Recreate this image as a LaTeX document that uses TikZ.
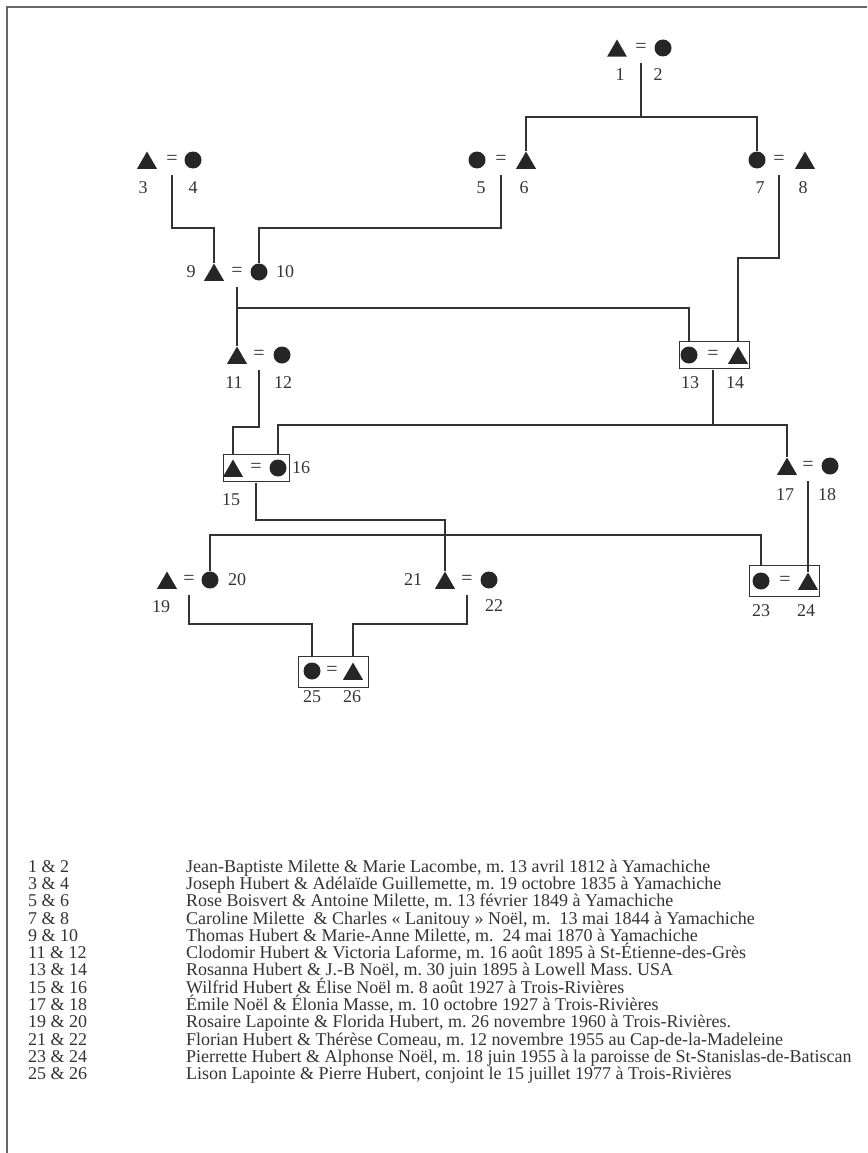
\documentclass[tikz,border=0pt]{standalone}
\usepackage{fontspec}
\setmainfont{Liberation Serif}
\usetikzlibrary{shapes.geometric}
\frenchspacing

\begin{document}
\begin{tikzpicture}[
    x=1pt, y=-1pt,
    male/.style={regular polygon, regular polygon sides=3, fill=black!85, minimum size=23pt, inner sep=0pt, yshift=-3pt},
    female/.style={circle, fill=black!85, minimum size=17pt, inner sep=0pt},
    eq/.style={inner sep=0pt, minimum height=30pt, text=black!80, font=\fontsize{20}{22}\selectfont},
    num/.style={inner sep=0pt, text=black!80, font=\fontsize{18}{20}\selectfont},
    couplebox/.style={draw=black!80, line width=0.9pt, minimum width=70pt, minimum height=27pt, inner sep=0pt},
    link/.style={draw=black!80, line width=1.1pt},
    legtext/.style={anchor=base west, inner sep=0pt, text=black!80, font=\fontsize{18}{20}\selectfont},
    frame/.style={draw=black!60, line width=2.5pt}
  ]
  \useasboundingbox (0,0) rectangle (867,1153);
  \draw[frame] (7,1153) -- (7,7) -- (867,7);

  % Couple 1 = 2
  \node[male] (m1) at (617,48) {};
  \node[eq] (e12) at (641,48) {=};
  \node[female] (f2) at (663,48) {};
  \node[num] (n1) at (620,75) {1};
  \node[num] (n2) at (658,75) {2};

  % Couples 3 = 4, 5 = 6, 7 = 8
  \node[male] (m3) at (147,160) {};
  \node[eq] (e34) at (172,160) {=};
  \node[female] (f4) at (193,160) {};
  \node[num] (n3) at (143,188) {3};
  \node[num] (n4) at (193,188) {4};
  \node[female] (f5) at (477,160) {};
  \node[eq] (e56) at (501,160) {=};
  \node[male] (m6) at (526,160) {};
  \node[num] (n5) at (481,188) {5};
  \node[num] (n6) at (524,188) {6};
  \node[female] (f7) at (757,160) {};
  \node[eq] (e78) at (779,160) {=};
  \node[male] (m8) at (805,160) {};
  \node[num] (n7) at (760,188) {7};
  \node[num] (n8) at (803,188) {8};

  % Couple 9 = 10
  \node[num] (n9) at (191,272) {9};
  \node[male] (m9) at (214,272) {};
  \node[eq] (e910) at (237,272) {=};
  \node[female] (f10) at (259,272) {};
  \node[num] (n10) at (285,272) {10};

  % Couples 11 = 12, 13 = 14
  \node[male] (m11) at (237,355) {};
  \node[eq] (e1112) at (259,355) {=};
  \node[female] (f12) at (282,355) {};
  \node[num] (n11) at (234,383) {11};
  \node[num] (n12) at (283,383) {12};
  \node[couplebox] (b1314) at (714,355) {};
  \node[female] (f13) at (689,355) {};
  \node[eq] (e1314) at (713,355) {=};
  \node[male] (m14) at (738,355) {};
  \node[num] (n13) at (690,383) {13};
  \node[num] (n14) at (735,383) {14};

  % Couples 15 = 16, 17 = 18
  \node[couplebox, minimum width=66pt] (b1516) at (256,468) {};
  \node[male] (m15) at (233,468) {};
  \node[eq] (e1516) at (256,468) {=};
  \node[female] (f16) at (278,468) {};
  \node[num] (n15) at (231,500) {15};
  \node[num] (n16) at (301,468) {16};
  \node[male] (m17) at (787,466) {};
  \node[eq] (e1718) at (808,466) {=};
  \node[female] (f18) at (830,466) {};
  \node[num] (n17) at (785,495) {17};
  \node[num] (n18) at (827,495) {18};

  % Couples 19 = 20, 21 = 22, 23 = 24
  \node[male] (m19) at (167,580) {};
  \node[eq] (e1920) at (189,580) {=};
  \node[female] (f20) at (210,580) {};
  \node[num] (n19) at (161,607) {19};
  \node[num] (n20) at (237,580) {20};
  \node[num] (n21) at (413,580) {21};
  \node[male] (m21) at (445,580) {};
  \node[eq] (e2122) at (467,580) {=};
  \node[female] (f22) at (489,580) {};
  \node[num] (n22) at (494,606) {22};
  \node[couplebox, minimum height=31pt] (b2324) at (784,581) {};
  \node[female] (f23) at (761,581) {};
  \node[eq] (e2324) at (785,581) {=};
  \node[male] (m24) at (808,581) {};
  \node[num] (n23) at (761,611) {23};
  \node[num] (n24) at (806,611) {24};

  % Couple 25 = 26
  \node[couplebox, minimum height=31pt] (b2526) at (333,672) {};
  \node[female] (f25) at (312,671) {};
  \node[eq] (e2526) at (332,671) {=};
  \node[male] (m26) at (353,671) {};
  \node[num] (n25) at (312,697) {25};
  \node[num] (n26) at (352,697) {26};

  % Junctions
  \coordinate (j12) at (641,117);
  \coordinate (j34) at (172,228);
  \coordinate (j56) at (501,228);
  \coordinate (j78) at (779,258);
  \coordinate (j910) at (237,308);
  \coordinate (j1112) at (259,427);
  \coordinate (j1314) at (713,425);
  \coordinate (j1516) at (256,520);
  \coordinate (j2023) at (480,535);
  \coordinate (j1920) at (189,624);
  \coordinate (j2122) at (467,624);

  % Descent lines
  \draw[link] (e12.south) -- (j12);
  \draw[link] (m6.north) |- (j12) -| (f7.north);
  \draw[link] (e34.south) -- (j34) -| (m9.north);
  \draw[link] (e56.south) -- (j56) -| (f10.north);
  \draw[link] (e910.south) -- (m11.north);
  \draw[link] (j910) -| (f13 |- b1314.north);
  \draw[link] (e78.south) -- (j78) -| (m14 |- b1314.north);
  \draw[link] (e1112.south) -- (j1112) -| (m15 |- b1516.north);
  \draw[link] (e1314.south) -- (j1314);
  \draw[link] (f16 |- b1516.north) |- (j1314) -| (m17.north);
  \draw[link] (e1516.south) -- (j1516) -| (m21.north);
  \draw[link] (e1718.south) -- (m24.north);
  \draw[link] (f20.north) |- (j2023) -| (f23 |- b2324.north);
  \draw[link] (e1920.south) -- (j1920) -| (f25 |- b2526.north);
  \draw[link] (e2122.south) -- (j2122) -| (m26 |- b2526.north);

  % Legend
  \foreach \pair/\desc [count=\i from 0] in {
      {1 \& 2}/{Jean-Baptiste Milette \& Marie Lacombe, m. 13 avril 1812 à Yamachiche},
      {3 \& 4}/{Joseph Hubert \& Adélaïde Guillemette, m. 19 octobre 1835 à Yamachiche},
      {5 \& 6}/{Rose Boisvert \& Antoine Milette, m. 13 février 1849 à Yamachiche},
      {7 \& 8}/{Caroline Milette\ \ \& Charles « Lanitouy » Noël, m.\ \ 13 mai 1844 à Yamachiche},
      {9 \& 10}/{Thomas Hubert \& Marie-Anne Milette, m.\ \ 24 mai 1870 à Yamachiche},
      {11 \& 12}/{Clodomir Hubert \& Victoria Laforme, m. 16 août 1895 à St-Étienne-des-Grès},
      {13 \& 14}/{Rosanna Hubert \& J.-B Noël, m. 30 juin 1895 à Lowell Mass. USA},
      {15 \& 16}/{Wilfrid Hubert \& Élise Noël m. 8 août 1927 à Trois-Rivières},
      {17 \& 18}/{Émile Noël \& Élonia Masse, m. 10 octobre 1927 à Trois-Rivières},
      {19 \& 20}/{Rosaire Lapointe \& Florida Hubert, m. 26 novembre 1960 à Trois-Rivières.},
      {21 \& 22}/{Florian Hubert \& Thérèse Comeau, m. 12 novembre 1955 au Cap-de-la-Madeleine},
      {23 \& 24}/{Pierrette Hubert \& Alphonse Noël, m. 18 juin 1955 à la paroisse de St-Stanislas-de-Batiscan},
      {25 \& 26}/{Lison Lapointe \& Pierre Hubert, conjoint le 15 juillet 1977 à Trois-Rivières}} {
    \node[legtext] (pair\i) at (28,872+17.33*\i) {\pair};
    \node[legtext] (desc\i) at (186,872+17.33*\i) {\desc};
  }
\end{tikzpicture}
\end{document}
